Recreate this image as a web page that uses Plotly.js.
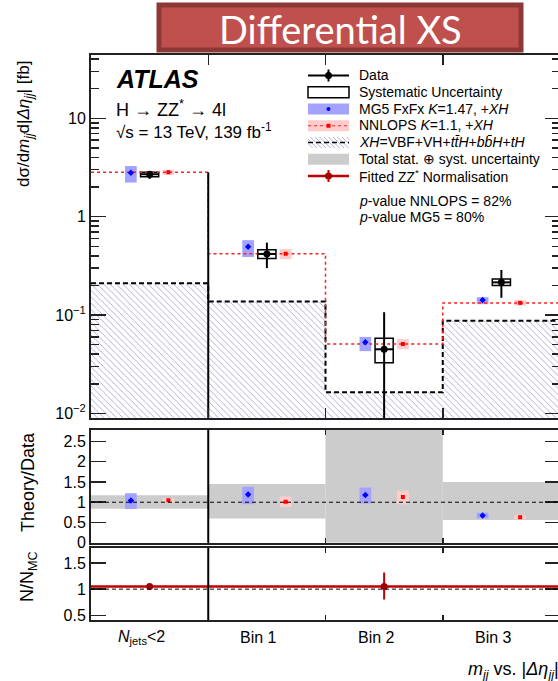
<!DOCTYPE html>
<html>
<head>
<meta charset="utf-8">
<script src="https://cdn.plot.ly/plotly-3.0.1.min.js"></script>
<style>
  html, body { margin: 0; padding: 0; background: #fff; overflow: hidden; }
  #chart { width: 561px; height: 681px; }
</style>
</head>
<body>
<div id="chart"></div>
<script>
// ---- bins ----
const binLabels = ['<i>N</i><sub>jets</sub><2', 'Bin 1', 'Bin 2', 'Bin 3'];
const binEdges = [0, 1, 2, 3, 4];
const binCenters = [0.5, 1.5, 2.5, 3.5];

// ---- measured cross sections [fb] ----
const dataXS = [2.70, 0.418, 0.0449, 0.215];
const dataErrUp = [0.21, 0.127, 0.062, 0.072];
const dataErrDown = [0.28, 0.118, 0.040, 0.065];
const dataSystLo = [2.54, 0.376, 0.0328, 0.200];
const dataSystHi = [2.83, 0.460, 0.058, 0.233];

// ---- predictions [fb] ----
const mg5XS = [2.80, 0.495, 0.053, 0.142];
const mg5Lo = [2.22, 0.389, 0.043, 0.129];
const mg5Hi = [3.27, 0.577, 0.060, 0.152];
const nnlopsXS = [2.83, 0.420, 0.0508, 0.133];
const nnlopsLo = [2.65, 0.370, 0.045, 0.125];
const nnlopsHi = [2.98, 0.470, 0.057, 0.142];
const xhXS = [0.21, 0.137, 0.0164, 0.0877];

// ---- theory / data ----
const totalUncLo = [0.84, 0.60, 0.00, 0.56];
const totalUncHi = [1.17, 1.45, 2.80, 1.50];
const mg5Ratio = [1.04, 1.19, 1.18, 0.67];
const mg5RatioLo = [0.83, 0.95, 0.97, 0.60];
const mg5RatioHi = [1.22, 1.38, 1.36, 0.74];
const nnlopsRatio = [1.05, 1.01, 1.13, 0.63];
const nnlopsRatioLo = [0.98, 0.88, 0.95, 0.58];
const nnlopsRatioHi = [1.10, 1.14, 1.28, 0.68];

// ---- fitted ZZ* normalisation per region ----
const zzRegionEdges = [0, 1, 4];
const zzRegionCenters = [0.5, 2.5];
const zzNorm = [1.05, 1.05];
const zzErrUp = [0.02, 0.27];
const zzErrDown = [0.02, 0.25];

// ---- style ----
const FONT = 'Liberation Sans, Arial, sans-serif';
const C_MG5_BOX = '#a3a3ff';
const C_NNLOPS_BOX = '#ffcccc';
const C_ZZ = '#c00000';
const XH_DASH = '5px,3px';
const modelOffset = 0.16;
const modelBoxW = 0.1;
const systBoxW = 0.155;

// step-line helper: repeat the last value so 'hv' closes the final bin
const stepY = v => v.concat([v[v.length - 1]]);
const span = (lo, hi) => hi.map((h, i) => h - lo[i]);
const shift = d => binCenters.map(c => c + d);

const traces = [];

// XH contribution: hatched area with dashed outline
traces.push({
  type: 'bar', x: binCenters, y: xhXS, width: 1, xaxis: 'x', yaxis: 'y',
  marker: { color: 'rgba(0,0,0,0)', line: { width: 0 },
            pattern: { shape: '\\', fgcolor: '#a8a8d8', bgcolor: 'rgba(0,0,0,0)', size: 4.5, solidity: 0.2 } },
  hoverinfo: 'skip'
});
traces.push({
  type: 'scatter', mode: 'lines', x: binEdges, y: stepY(xhXS), xaxis: 'x', yaxis: 'y',
  line: { shape: 'hv', color: '#000', width: 2, dash: XH_DASH }
});
// NNLOPS histogram
traces.push({
  type: 'scatter', mode: 'lines', x: binEdges, y: stepY(nnlopsXS), xaxis: 'x', yaxis: 'y',
  line: { shape: 'hv', color: '#ff2020', width: 1.5, dash: 'dot' }
});
// region separator below the first bin
traces.push({
  type: 'scatter', mode: 'lines', x: [binEdges[1], binEdges[1]], y: [nnlopsXS[0], 1e-4],
  xaxis: 'x', yaxis: 'y', line: { color: '#000', width: 2 }
});
// model uncertainty boxes
traces.push({
  type: 'bar', x: shift(-modelOffset), base: mg5Lo, y: span(mg5Lo, mg5Hi), width: modelBoxW,
  xaxis: 'x', yaxis: 'y', marker: { color: C_MG5_BOX, line: { width: 0 } }
});
traces.push({
  type: 'bar', x: shift(modelOffset), base: nnlopsLo, y: span(nnlopsLo, nnlopsHi), width: modelBoxW,
  xaxis: 'x', yaxis: 'y', marker: { color: C_NNLOPS_BOX, line: { width: 0 } }
});
traces.push({
  type: 'scatter', mode: 'markers', x: shift(-modelOffset), y: mg5XS, xaxis: 'x', yaxis: 'y',
  marker: { symbol: 'diamond', size: 5, color: '#0000ff' }
});
traces.push({
  type: 'scatter', mode: 'markers', x: shift(modelOffset), y: nnlopsXS, xaxis: 'x', yaxis: 'y',
  marker: { symbol: 'square', size: 4, color: '#ff0000' }
});
// data systematic boxes
traces.push({
  type: 'bar', x: binCenters, base: dataSystLo, y: span(dataSystLo, dataSystHi), width: systBoxW,
  xaxis: 'x', yaxis: 'y', marker: { color: 'rgba(255,255,255,0)', line: { color: '#000', width: 1.5 } }
});
// data points
traces.push({
  type: 'scatter', mode: 'markers', x: binCenters, y: dataXS, xaxis: 'x', yaxis: 'y',
  marker: { symbol: 'circle', size: 7, color: '#000' },
  error_y: { type: 'data', symmetric: false, array: dataErrUp, arrayminus: dataErrDown, width: 0, thickness: 2, color: '#000' },
  error_x: { type: 'constant', value: systBoxW / 2, width: 0, thickness: 2, color: '#000' }
});

// ---- ratio panel ----
traces.push({
  type: 'bar', x: binCenters, base: totalUncLo, y: span(totalUncLo, totalUncHi), width: 1,
  xaxis: 'x2', yaxis: 'y2', marker: { color: '#cccccc', line: { width: 0 } }
});
traces.push({
  type: 'bar', x: shift(-modelOffset), base: mg5RatioLo, y: span(mg5RatioLo, mg5RatioHi), width: modelBoxW,
  xaxis: 'x2', yaxis: 'y2', marker: { color: C_MG5_BOX, line: { width: 0 } }
});
traces.push({
  type: 'bar', x: shift(modelOffset), base: nnlopsRatioLo, y: span(nnlopsRatioLo, nnlopsRatioHi), width: modelBoxW,
  xaxis: 'x2', yaxis: 'y2', marker: { color: C_NNLOPS_BOX, line: { width: 0 } }
});
traces.push({
  type: 'scatter', mode: 'markers', x: shift(-modelOffset), y: mg5Ratio, xaxis: 'x2', yaxis: 'y2',
  marker: { symbol: 'diamond', size: 5, color: '#0000ff' }
});
traces.push({
  type: 'scatter', mode: 'markers', x: shift(modelOffset), y: nnlopsRatio, xaxis: 'x2', yaxis: 'y2',
  marker: { symbol: 'square', size: 4, color: '#ff0000' }
});

// ---- ZZ* normalisation panel ----
traces.push({
  type: 'scatter', mode: 'lines', x: zzRegionEdges, y: stepY(zzNorm), xaxis: 'x3', yaxis: 'y3',
  line: { shape: 'hv', color: C_ZZ, width: 2.5 }
});
traces.push({
  type: 'scatter', mode: 'markers', x: zzRegionCenters, y: zzNorm, xaxis: 'x3', yaxis: 'y3',
  marker: { symbol: 'circle', size: 7, color: '#a00000' },
  error_y: { type: 'data', symmetric: false, array: zzErrUp, arrayminus: zzErrDown, width: 0, thickness: 2, color: C_ZZ }
});

// ---- pixel -> paper helpers ----
const L = 91, R = 560, T = 55, B = 620;
const px = x => (x - L) / (R - L);
const py = y => (B - y) / (B - T);

const shapes = [];
const annotations = [];

// dashed unity lines and region separators in the lower panels
['y2', 'y3'].forEach((ya, k) => {
  const xa = k === 0 ? 'x2' : 'x3';
  shapes.push({ type: 'line', xref: xa, yref: ya, x0: binEdges[0], x1: binEdges[4], y0: 1, y1: 1,
                line: { color: '#000', width: 1, dash: '4px,3px' } });
  shapes.push({ type: 'line', xref: xa, yref: ya + ' domain', x0: binEdges[1], x1: binEdges[1], y0: 0, y1: 1,
                line: { color: '#000', width: 2 } });
});

// header banner
shapes.push({ type: 'rect', xref: 'paper', yref: 'paper', x0: px(159), x1: px(521), y0: py(50), y1: py(5),
              fillcolor: '#c0504d', line: { color: '#8c3836', width: 5 } });
annotations.push({ xref: 'paper', yref: 'paper', x: px(340), y: py(29), xanchor: 'center', yanchor: 'middle',
                   text: 'Differential XS', showarrow: false, font: { family: 'Lato, Open Sans, sans-serif', size: 38, color: '#fff' } });

// experiment label
const txt = (x, y, text, size, extra) => annotations.push(Object.assign({
  xref: 'paper', yref: 'paper', x: px(x), y: py(y), xanchor: 'left', yanchor: 'middle',
  text, showarrow: false, font: { family: FONT, size, color: '#000' }
}, extra || {}));
txt(114, 79, '<b><i>ATLAS</i></b>', 25);
txt(114, 108, 'H → ZZ<sup>*</sup> → 4l', 18);
txt(114, 131, '√s = 13 TeV, 139 fb<sup>-1</sup>', 17);

// legend
const lx0 = 308, lx1 = 349, lxc = 328.5, lh = 5.5;
const rows = [75.5, 92.25, 109, 125.75, 142.5, 159.25, 176];
const lineP = (x0, y0, x1, y1, color, width, dash) => shapes.push({
  type: 'line', xref: 'paper', yref: 'paper', x0: px(x0), x1: px(x1), y0: py(y0), y1: py(y1),
  line: { color, width, dash: dash || 'solid' } });
const rectP = (x0, y0, x1, y1, fill, lineColor, lw) => shapes.push({
  type: 'rect', xref: 'paper', yref: 'paper', x0: px(x0), x1: px(x1), y0: py(y1), y1: py(y0),
  fillcolor: fill, line: { color: lineColor || 'rgba(0,0,0,0)', width: lw || 0 } });
const dotP = (x, y, r, color, kind) => shapes.push({
  type: kind || 'circle', xref: 'paper', yref: 'paper', x0: px(x - r), x1: px(x + r), y0: py(y + r), y1: py(y - r),
  fillcolor: color, line: { width: 0 } });

// Data
lineP(lx0, rows[0], lx1, rows[0], '#000', 2);
lineP(lxc, rows[0] - 6, lxc, rows[0] + 6, '#000', 2);
dotP(lxc, rows[0], 3.5, '#000');
// Systematic
rectP(lx0, rows[1] - lh, lx1, rows[1] + lh, 'rgba(0,0,0,0)', '#000', 1.5);
// MG5
rectP(lx0, rows[2] - lh, lx1, rows[2] + lh, C_MG5_BOX);
dotP(lxc, rows[2], 2, '#0000ff');
// NNLOPS
rectP(lx0, rows[3] - lh, lx1, rows[3] + lh, C_NNLOPS_BOX);
lineP(lx0, rows[3], lx1, rows[3], '#ff2020', 1, 'dot');
dotP(lxc, rows[3], 2, '#ff0000', 'rect');
// XH hatch
for (let s = lx0 - 2 * lh; s < lx1; s += 4.5) {
  const t0 = Math.max(0, lx0 - s), t1 = Math.min(2 * lh, lx1 - s);
  if (t1 > t0) lineP(s + t0, rows[4] - lh + t0, s + t1, rows[4] - lh + t1, '#b4b4dc', 1);
}
lineP(lx0, rows[4], lx1, rows[4], '#000', 1.5, XH_DASH);
// Total uncertainty
rectP(lx0, rows[5] - lh, lx1, rows[5] + lh, '#cccccc');
// Fitted ZZ*
lineP(lx0, rows[6], lx1, rows[6], C_ZZ, 2.5);
lineP(lxc, rows[6] - 6, lxc, rows[6] + 6, C_ZZ, 2);
dotP(lxc, rows[6], 3.5, '#a00000');

const legText = [
  'Data',
  'Systematic Uncertainty',
  'MG5 FxFx <i>K</i>=1.47, +<i>XH</i>',
  'NNLOPS <i>K</i>=1.1, +<i>XH</i>',
  '<i>XH</i>=VBF+VH+<i>t</i><i>t̄</i><i>H</i>+<i>b</i><i>b̄</i><i>H</i>+<i>tH</i>',
  'Total stat. ⊕ syst. uncertainty',
  'Fitted ZZ<sup>*</sup> Normalisation'
];
legText.forEach((t, i) => txt(357, rows[i] - 0.5, t, 14));
txt(357, 200.5, '<i>p</i>-value NNLOPS = 82%', 14);
txt(357, 216.5, '<i>p</i>-value MG5 = 80%', 14);

// bin labels
binLabels.forEach((t, i) => annotations.push({
  xref: 'x3', yref: 'paper', x: binCenters[i], y: py(637), xshift: -8, xanchor: 'center', yanchor: 'middle',
  text: t, showarrow: false, font: { family: FONT, size: 16, color: '#000' }
}));
txt(466, 670, '<i>m</i><sub><i>jj</i></sub> vs. |<i>Δη</i><sub><i>jj</i></sub>|', 18);

// axis titles
annotations.push({ xref: 'paper', yref: 'paper', x: px(25), y: py(59), xanchor: 'center', yanchor: 'top', textangle: -90,
  text: 'dσ/d<i>m</i><sub><i>jj</i></sub>d|<i>Δη</i><sub><i>jj</i></sub>| [fb]', showarrow: false,
  font: { family: FONT, size: 17, color: '#000' } });
annotations.push({ xref: 'paper', yref: 'paper', x: px(28), y: py(482), xanchor: 'center', yanchor: 'middle', textangle: -90,
  text: 'Theory/Data', showarrow: false, font: { family: FONT, size: 18, color: '#000' } });
annotations.push({ xref: 'paper', yref: 'paper', x: px(28), y: py(577), xanchor: 'center', yanchor: 'middle', textangle: -90,
  text: 'N/N<sub>MC</sub>', showarrow: false, font: { family: FONT, size: 18, color: '#000' } });

// ---- axes ----
const frame = { showline: true, linecolor: '#222', linewidth: 2, mirror: 'ticks', ticks: 'inside',
                tickcolor: '#222', tickwidth: 1.5, showgrid: false, zeroline: false };
const xBase = Object.assign({}, frame, { range: [0, 4], tickmode: 'array', tickvals: binEdges.slice(1, 4), showticklabels: false });

const minorLog = [];
[-2, -1, 0, 1].forEach(d => { for (let m = 2; m <= 9; m++) minorLog.push(m * Math.pow(10, d)); });

const layout = {
  width: 561, height: 681,
  margin: { l: L, r: 561 - R, t: T, b: 681 - B },
  paper_bgcolor: '#fff', plot_bgcolor: 'rgba(0,0,0,0)',
  showlegend: false, barmode: 'overlay',
  font: { family: FONT, color: '#000' },
  xaxis: Object.assign({}, xBase, { anchor: 'y', ticklen: 10 }),
  xaxis2: Object.assign({}, xBase, { anchor: 'y2', matches: 'x', ticklen: 5 }),
  xaxis3: Object.assign({}, xBase, { anchor: 'y3', matches: 'x', ticklen: 5 }),
  yaxis: Object.assign({}, frame, {
    type: 'log', domain: [(B - 418) / (B - T), 1], range: [-2.046, 1.643],
    tickmode: 'array', tickvals: [0.01, 0.1, 1, 10], ticktext: ['10<sup>−2</sup>', '10<sup>−1</sup>', '1', '10'],
    ticklen: 15, tickfont: { size: 16 },
    minor: { tickmode: 'array', tickvals: minorLog, ticks: 'inside', ticklen: 8, tickcolor: '#222', tickwidth: 1.5 }
  }),
  yaxis2: Object.assign({}, frame, {
    domain: [(B - 542.8) / (B - T), (B - 429.6) / (B - T)], range: [0, 2.79],
    tickmode: 'array', tickvals: [0, 0.5, 1, 1.5, 2, 2.5], ticktext: ['0', '0.5', '1', '1.5', '2', '2.5'],
    ticklen: 15, tickfont: { size: 16 }
  }),
  yaxis3: Object.assign({}, frame, {
    domain: [0, (B - 547.8) / (B - T)], range: [0.41, 1.79],
    tickmode: 'array', tickvals: [0.5, 1, 1.5], ticktext: ['0.5', '1', '1.5'],
    ticklen: 15, tickfont: { size: 16 }
  }),
  shapes, annotations
};

Plotly.newPlot('chart', traces, layout, { staticPlot: true, displayModeBar: false });
</script>
</body>
</html>
